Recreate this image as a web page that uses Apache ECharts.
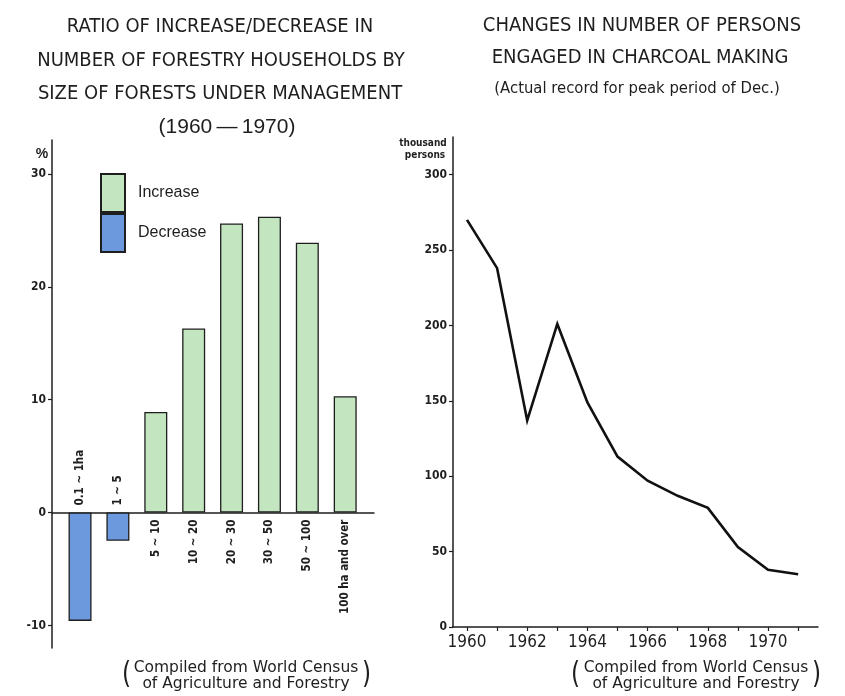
<!DOCTYPE html>
<html>
<head>
<meta charset="utf-8">
<script src="https://cdn.jsdelivr.net/npm/echarts@6/dist/echarts.min.js"></script>
<style>
html,body{margin:0;padding:0;background:#fff;}
#c{width:845px;height:696px;}
</style>
</head>
<body>
<div id="c"></div>
<script>
// ---- Data: left chart ----
const sizeClasses = ['0.1 ~ 1ha', '1 ~ 5', '5 ~ 10', '10 ~ 20', '20 ~ 30', '30 ~ 50', '50 ~ 100', '100 ha and over'];
const ratioValues = [-9.6, -2.5, 8.9, 16.3, 25.6, 26.2, 23.9, 10.3];
const leftTicks = [-10, 0, 10, 20, 30];

// ---- Data: right chart ----
const years = [1960, 1961, 1962, 1963, 1964, 1965, 1966, 1967, 1968, 1969, 1970, 1971];
const persons = [270, 238, 137, 201, 149, 113, 97, 87, 79, 53, 38, 35];
const yearLabels = [1960, 1962, 1964, 1966, 1968, 1970];
const rightTicks = [0, 50, 100, 150, 200, 250, 300];

const COND = "'Liberation Sans Narrow','DejaVu Sans Condensed','Roboto Condensed',sans-serif";
const SANS = "'Liberation Sans','DejaVu Sans',sans-serif";
const DEJA = "'DejaVu Sans',sans-serif";
const GREEN = '#c3e6c1';
const BLUE = '#6c98dd';
const INK = '#1e1e1e';

function barItem(i, v) {
  const neg = v < 0;
  return {
    value: [i, v],
    label: {
      show: true,
      formatter: sizeClasses[i],
      position: neg ? 'top' : 'bottom',
      rotate: 90,
      align: neg ? 'left' : 'right',
      verticalAlign: 'middle',
      distance: 7,
      fontFamily: COND,
      fontSize: 11.5,
      fontWeight: 'bold',
      color: INK
    }
  };
}
const incData = ratioValues.map((v, i) => v >= 0 ? barItem(i, v) : null).filter(d => d);
const decData = ratioValues.map((v, i) => v < 0 ? barItem(i, v) : null).filter(d => d);

const chart = echarts.init(document.getElementById('c'), null, {renderer: 'canvas'});

const titleStyle = {fontFamily: COND, fontSize: 20, fill: INK, textAlign: 'center', textVerticalAlign: 'middle'};
function t(x, y, text, extra) {
  return {type: 'text', x: x, y: y, silent: true, style: Object.assign({}, titleStyle, {text: text}, extra || {})};
}
function footer(cx, left, right) {
  const fs = {fontFamily: DEJA, fontSize: 15.5, fill: INK, textAlign: 'center', textVerticalAlign: 'middle'};
  const ps = {fontFamily: DEJA, fontSize: 31, fill: INK, textVerticalAlign: 'middle'};
  return [
    {type: 'text', x: cx, y: 668, silent: true, style: Object.assign({}, fs, {text: 'Compiled from World Census'})},
    {type: 'text', x: cx, y: 684, silent: true, style: Object.assign({}, fs, {text: 'of Agriculture and Forestry'})},
    {type: 'text', x: left, y: 675, silent: true, scaleX: 0.75, style: Object.assign({}, ps, {text: '(', textAlign: 'left'})},
    {type: 'text', x: right, y: 675, silent: true, scaleX: 0.75, style: Object.assign({}, ps, {text: ')', textAlign: 'right'})}
  ];
}

const option = {
  backgroundColor: '#ffffff',
  animation: false,
  grid: [
    {left: 52, top: 140, width: 322, height: 508, containLabel: false},
    {left: 453, top: 137, width: 365, height: 490, containLabel: false}
  ],
  legend: {
    data: ['Increase', 'Decrease'],
    orient: 'vertical',
    left: 100,
    top: 173,
    padding: 0,
    itemWidth: 24,
    itemHeight: 38,
    itemGap: 0,
    icon: 'rect',
    selectedMode: false,
    textStyle: {fontFamily: SANS, fontSize: 16, color: INK, padding: [0, 0, 0, 8]}
  },
  xAxis: [
    {
      gridIndex: 0, type: 'value', min: -0.74, max: 7.76,
      axisLine: {show: true, onZero: true, lineStyle: {color: INK, width: 1.5}},
      axisTick: {show: false}, axisLabel: {show: false}, splitLine: {show: false}
    },
    {
      gridIndex: 1, type: 'value', min: 1959.535, max: 1971.66,
      axisLine: {show: true, onZero: false, lineStyle: {color: INK, width: 1.5}},
      axisTick: {show: true, inside: false, length: 4, customValues: years, lineStyle: {color: INK, width: 1.2}},
      axisLabel: {show: true, customValues: yearLabels, formatter: v => String(v), fontFamily: COND, fontSize: 17, color: INK, margin: 7},
      splitLine: {show: false}
    }
  ],
  yAxis: [
    {
      gridIndex: 0, type: 'value', min: -12, max: 33,
      axisLine: {show: true, onZero: false, lineStyle: {color: INK, width: 1.5}},
      axisTick: {show: true, length: 4, customValues: leftTicks, lineStyle: {color: INK, width: 1.2}},
      axisLabel: {show: true, customValues: leftTicks, fontFamily: COND, fontSize: 12, fontWeight: 'bold', color: INK, margin: 6},
      splitLine: {show: false}
    },
    {
      gridIndex: 1, type: 'value', min: 0, max: 325,
      axisLine: {show: true, onZero: false, lineStyle: {color: INK, width: 1.5}},
      axisTick: {show: true, length: 4, customValues: rightTicks, lineStyle: {color: INK, width: 1.2}},
      axisLabel: {show: true, customValues: rightTicks, fontFamily: COND, fontSize: 12, fontWeight: 'bold', color: INK, margin: 6},
      splitLine: {show: false}
    }
  ],
  series: [
    {
      name: 'Increase', type: 'bar', xAxisIndex: 0, yAxisIndex: 0,
      barWidth: 23, barGap: '-100%',
      itemStyle: {color: GREEN, borderColor: INK, borderWidth: 1.3},
      data: incData
    },
    {
      name: 'Decrease', type: 'bar', xAxisIndex: 0, yAxisIndex: 0,
      barWidth: 23, barGap: '-100%',
      itemStyle: {color: BLUE, borderColor: INK, borderWidth: 1.3},
      data: decData
    },
    {
      name: 'Persons', type: 'line', xAxisIndex: 1, yAxisIndex: 1,
      showSymbol: false, symbol: 'none',
      lineStyle: {color: '#111', width: 2.6, join: 'miter'},
      data: years.map((y, i) => [y, persons[i]])
    }
  ],
  graphic: [
    t(220, 27, 'RATIO OF INCREASE/DECREASE IN'),
    t(221, 61, 'NUMBER OF FORESTRY HOUSEHOLDS BY'),
    t(220, 94, 'SIZE OF FORESTS UNDER MANAGEMENT'),
    t(227, 127, '(1960\u2009\u2014\u20091970)', {fontFamily: SANS, fontSize: 21}),
    t(642, 26, 'CHANGES IN NUMBER OF PERSONS'),
    t(640, 58, 'ENGAGED IN CHARCOAL MAKING'),
    t(637, 89, '(Actual record for peak period of Dec.)', {fontSize: 16.5}),
    t(42, 154, '%', {fontFamily: SANS, fontSize: 14, fontWeight: 'bold'}),
    t(423, 143, 'thousand', {fontSize: 10, fontWeight: 'bold'}),
    t(425, 155, 'persons', {fontSize: 10, fontWeight: 'bold'})
  ].concat(footer(246, 122, 371)).concat(footer(696, 571, 821))
};
chart.setOption(option);
</script>
</body>
</html>
